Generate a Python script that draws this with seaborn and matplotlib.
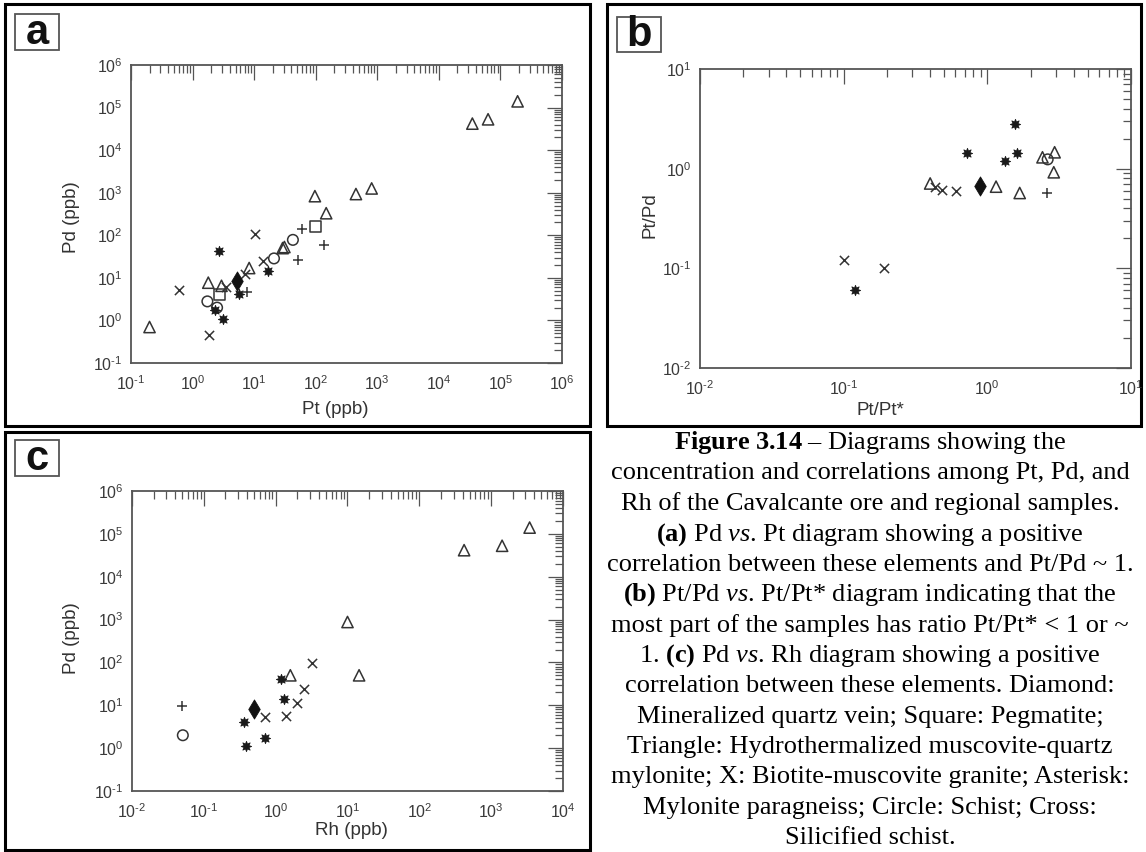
import numpy as np
import pandas as pd
import matplotlib
matplotlib.use("Agg")
import matplotlib.pyplot as plt
from matplotlib.patches import Rectangle
from matplotlib.ticker import LogLocator, NullFormatter, FuncFormatter
import seaborn as sns

# ---------------- data ----------------
# Panel a: Pt (ppb) vs Pd (ppb)
a_tri_pt = [0.2, 1.8, 2.95, 8.3, 29, 31, 97, 148, 450, 810, 3.5e4, 6.3e4, 1.9e5]
a_tri_pd = [0.7, 7.7, 6.5, 17, 50, 53, 830, 330, 930, 1260, 4.2e4, 5.3e4, 1.4e5]
a_x_pt = [0.6, 1.86, 3.5, 7.1, 10.4, 14]
a_x_pd = [5.1, 0.45, 6.0, 12.3, 105, 25]
a_ast_pt = [2.3, 3.1, 2.7, 5.7, 17]
a_ast_pd = [1.75, 1.1, 43, 4.2, 14.7]
a_circ_pt = [1.74, 2.5, 21, 42.6]
a_circ_pd = [2.8, 2.0, 28.6, 78]
a_sq_pt = [2.7, 98]
a_sq_pd = [4.0, 159]
a_dia_pt = [5.2]
a_dia_pd = [8.4]
a_cross_pt = [7.7, 51, 60, 138]
a_cross_pd = [4.6, 26, 142, 59]

# Panel b: Pt/Pt* vs Pt/Pd
b_tri_x = [0.40, 1.15, 1.68, 2.42, 2.94, 2.90]
b_tri_y = [0.71, 0.66, 0.57, 1.30, 1.46, 0.92]
b_x_x = [0.10, 0.19, 0.43, 0.48, 0.61]
b_x_y = [0.122, 0.10, 0.66, 0.61, 0.60]
b_ast_x = [0.12, 0.72, 1.32, 1.56, 1.60]
b_ast_y = [0.060, 1.43, 1.20, 2.83, 1.45]
b_circ_x = [2.63]
b_circ_y = [1.24]
b_dia_x = [0.89]
b_dia_y = [0.67]
b_cross_x = [2.6]
b_cross_y = [0.57]

# Panel c: Rh (ppb) vs Pd (ppb)
c_tri_rh = [1.6, 10, 14.5, 420, 1420, 3430]
c_tri_pd = [50, 877, 50, 4.16e4, 5.27e4, 1.4e5]
c_x_rh = [0.72, 1.38, 2.0, 2.5, 3.25]
c_x_pd = [5.2, 5.5, 11.3, 23.6, 99]
c_ast_rh = [0.36, 0.39, 0.70, 1.17, 1.3]
c_ast_pd = [4.1, 1.1, 1.7, 42, 14.3]
c_circ_rh = [0.051]
c_circ_pd = [2.0]
c_dia_rh = [0.5]
c_dia_pd = [8.1]
c_cross_rh = [0.050]
c_cross_pd = [9.5]

caption_lines = [
    r"$\mathbf{Figure\ 3.14}$ – Diagrams showing the",
    "concentration and correlations among Pt, Pd, and",
    "Rh of the Cavalcante ore and regional samples.",
    r"$\mathbf{(a)}$ Pd $\mathit{vs}$. Pt diagram showing a positive",
    "correlation between these elements and Pt/Pd ~ 1.",
    r"$\mathbf{(b)}$ Pt/Pd $\mathit{vs}$. Pt/Pt* diagram indicating that the",
    "most part of the samples has ratio Pt/Pt* < 1 or ~",
    r"1. $\mathbf{(c)}$ Pd $\mathit{vs}$. Rh diagram showing a positive",
    "correlation between these elements. Diamond:",
    "Mineralized quartz vein; Square: Pegmatite;",
    "Triangle: Hydrothermalized muscovite-quartz",
    "mylonite; X: Biotite-muscovite granite; Asterisk:",
    "Mylonite paragneiss; Circle: Schist; Cross:",
    "Silicified schist.",
]

# ---------------- style ----------------
sns.set_style("white")
plt.rcParams["font.family"] = ["Liberation Sans", "DejaVu Sans"]
plt.rcParams["mathtext.fontset"] = "custom"
plt.rcParams["mathtext.rm"] = "Liberation Sans"
plt.rcParams["mathtext.bf"] = "Liberation Serif:bold"
plt.rcParams["mathtext.it"] = "Liberation Serif:italic"
plt.rcParams["axes.unicode_minus"] = False

W, H = 1146, 852
fig = plt.figure(figsize=(W / 100, H / 100), dpi=100)
fig.patch.set_facecolor("white")

AX_COL = "#555555"
MK_COL = "#333333"


def fx(px):
    return px / W


def fy(py):
    return 1 - py / H


def add_axes_px(l, t, r, b):
    return fig.add_axes([fx(l), fy(b), (r - l) / W, (b - t) / H])


def frame(l, t, r, b, lw=2.0, color="black", z=0):
    fig.add_artist(Rectangle((fx(l), fy(b)), (r - l) / W, (b - t) / H,
                             transform=fig.transFigure, fill=False,
                             edgecolor=color, linewidth=lw, zorder=z))


MARKERS = {
    "tri": dict(marker="^", s=66, facecolor="none", edgecolor=MK_COL, linewidth=1.1),
    "x": dict(marker="x", s=44, color=MK_COL, linewidth=1.1),
    "ast": dict(marker=(8, 1, 0), s=55, color="#1a1a1a", edgecolor="#1a1a1a", linewidth=0.6),
    "circ": dict(marker="o", s=58, facecolor="none", edgecolor=MK_COL, linewidth=1.1),
    "sq": dict(marker="s", s=60, facecolor="none", edgecolor=MK_COL, linewidth=1.1),
    "dia": dict(marker="d", s=95, color="#111111", edgecolor="#111111", linewidth=0.6),
    "cross": dict(marker="+", s=55, color=MK_COL, linewidth=1.1),
}


def pow10_label(v, pos):
    if v <= 0:
        return ""
    e = int(round(np.log10(v)))
    es = str(e).replace("-", "\u2010")
    return r"$\mathdefault{10^{%s}}$" % es


def style_axes(ax, xlim, ylim):
    ax.set_xscale("log")
    ax.set_yscale("log")
    ax.set_xlim(*xlim)
    ax.set_ylim(*ylim)
    for axis in (ax.xaxis, ax.yaxis):
        axis.set_major_locator(LogLocator(base=10, numticks=30))
        axis.set_minor_locator(LogLocator(base=10, subs=np.arange(2, 10), numticks=300))
        axis.set_major_formatter(FuncFormatter(pow10_label))
        axis.set_minor_formatter(NullFormatter())
    for sp in ax.spines.values():
        sp.set_color(AX_COL)
        sp.set_linewidth(1.3)
    ax.tick_params(which="both", direction="in", top=True, right=True,
                   color=AX_COL, width=0.9)
    ax.tick_params(which="major", length=10.5)
    ax.tick_params(which="minor", length=5.5)
    ax.tick_params(axis="x", which="major", pad=8, labelsize=11.5, labelcolor="#3a3a3a")
    ax.tick_params(axis="y", which="major", pad=6, labelsize=11.5, labelcolor="#3a3a3a")
    ax.grid(False)


def scatter_group(ax, xs, ys, key):
    df = pd.DataFrame({"x": xs, "y": ys})
    sns.scatterplot(data=df, x="x", y="y", ax=ax, legend=False, zorder=3, **MARKERS[key])


def label_box(l, t, r, b, letter):
    frame(l, t, r, b, lw=1.3, color="#555555", z=2)
    fig.text(fx((l + r) / 2), fy((t + b) / 2 + 1), letter, ha="center", va="center",
             fontsize=30, fontweight="bold", family="Liberation Sans", color="#111111")


# ---------------- panel frames ----------------
frame(5, 4, 590, 426, lw=2.2)
frame(607, 4, 1141, 426, lw=2.2)
frame(5, 432, 590, 850, lw=2.2)

label_box(15, 14, 59, 50, "a")
label_box(617, 17, 661, 52, "b")
label_box(15, 440, 59, 476, "c")

LBL = dict(fontsize=13.5, color="#333333")

# ---------------- panel a ----------------
ax_a = add_axes_px(131, 65, 562, 363)
scatter_group(ax_a, a_tri_pt, a_tri_pd, "tri")
scatter_group(ax_a, a_x_pt, a_x_pd, "x")
scatter_group(ax_a, a_circ_pt, a_circ_pd, "circ")
scatter_group(ax_a, a_ast_pt, a_ast_pd, "ast")
scatter_group(ax_a, a_sq_pt, a_sq_pd, "sq")
scatter_group(ax_a, a_dia_pt, a_dia_pd, "dia")
scatter_group(ax_a, a_cross_pt, a_cross_pd, "cross")
style_axes(ax_a, (1e-1, 1e6), (1e-1, 1e6))
ax_a.set_xlabel("Pt (ppb)", **LBL)
ax_a.set_ylabel("Pd (ppb)", **LBL)
ax_a.xaxis.set_label_coords(0.475, -0.126)
ax_a.yaxis.set_label_coords(-0.119, 0.49)

# ---------------- panel b ----------------
ax_b = add_axes_px(700, 69, 1131, 368)
scatter_group(ax_b, b_tri_x, b_tri_y, "tri")
scatter_group(ax_b, b_x_x, b_x_y, "x")
scatter_group(ax_b, b_circ_x, b_circ_y, "circ")
scatter_group(ax_b, b_ast_x, b_ast_y, "ast")
scatter_group(ax_b, b_dia_x, b_dia_y, "dia")
scatter_group(ax_b, b_cross_x, b_cross_y, "cross")
style_axes(ax_b, (1e-2, 1e1), (1e-2, 1e1))
ax_b.set_xlabel("Pt/Pt*", **LBL)
ax_b.set_ylabel("Pt/Pd", **LBL)
ax_b.xaxis.set_label_coords(0.418, -0.115)
ax_b.yaxis.set_label_coords(-0.097, 0.51)

# ---------------- panel c ----------------
ax_c = add_axes_px(132, 491, 563, 791)
scatter_group(ax_c, c_tri_rh, c_tri_pd, "tri")
scatter_group(ax_c, c_x_rh, c_x_pd, "x")
scatter_group(ax_c, c_circ_rh, c_circ_pd, "circ")
scatter_group(ax_c, c_ast_rh, c_ast_pd, "ast")
scatter_group(ax_c, c_dia_rh, c_dia_pd, "dia")
scatter_group(ax_c, c_cross_rh, c_cross_pd, "cross")
style_axes(ax_c, (1e-2, 1e4), (1e-1, 1e6))
ax_c.set_xlabel("Rh (ppb)", **LBL)
ax_c.set_ylabel("Pd (ppb)", **LBL)
ax_c.xaxis.set_label_coords(0.51, -0.104)
ax_c.yaxis.set_label_coords(-0.121, 0.51)

# ---------------- caption ----------------
y0 = 443
dy = 30.4
for i, line in enumerate(caption_lines):
    fig.text(fx(870), fy(y0 + i * dy), line, ha="center", va="center",
             fontsize=19, family="Liberation Serif", color="black")

fig.savefig("out.png", dpi=100, facecolor="white")
